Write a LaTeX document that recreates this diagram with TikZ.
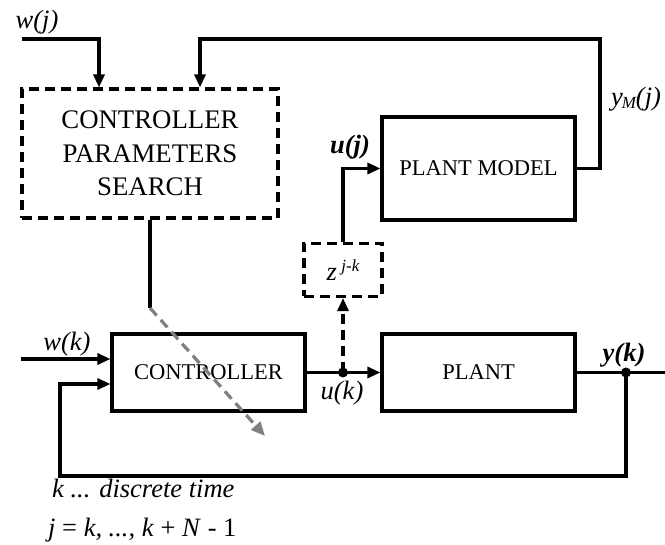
\documentclass[tikz,border=0pt]{standalone}
\usepackage{fontspec}
\setmainfont{Liberation Serif}
\usetikzlibrary{arrows.meta}
\begin{document}
\begin{tikzpicture}[x=1pt,y=-1pt,
  wire/.style={line width=3.1pt},
  arr/.style={wire,-{Triangle[length=13pt,width=11pt]}},
  dashwire/.style={dash pattern=on 10pt off 6pt},
  blk/.style={draw,line width=3.1pt,minimum width=193pt,inner sep=0pt,
    font=\fontsize{22.5}{27}\selectfont},
  dblk/.style={draw,line width=3.1pt,dashwire,inner sep=0pt},
  lbl/.style={font=\fontsize{26.5}{30}\selectfont\itshape,inner sep=0pt},
  blbl/.style={font=\fontsize{26.5}{30}\selectfont\bfseries\itshape,inner sep=0pt},
  dotn/.style={circle,fill,inner sep=0pt,minimum size=10pt},
  grayarr/.style={draw=gray,line width=3.2pt,dashwire,
    -{Triangle[length=14pt,width=12pt,fill=gray]}}]
\useasboundingbox (0,0) rectangle (665,545);

% blocks
\node[dblk,minimum width=256pt,minimum height=129pt,align=center,
  font=\fontsize{26.8}{33.5}\selectfont] (cps) at (150,153.5)
  {CONTROLLER\\PARAMETERS\\SEARCH};
\node[blk,minimum height=77pt] (ctrl) at (208.5,372.5) {CONTROLLER};
\node[blk,minimum height=77pt] (plant) at (478.5,372.5) {PLANT};
\node[blk,minimum height=103pt] (model) at (478.5,168.5) {PLANT MODEL};
\node[dblk,minimum width=78pt,minimum height=53pt,
  font=\fontsize{26.5}{30}\selectfont\itshape] (zd) at (343,270)
  {z\,\raisebox{9pt}{\fontsize{17}{17}\selectfont j-k}};

% junctions and free ends
\node[dotn] (uk) at (343,372.5) {};
\node[dotn] (yk) at (626,372.5) {};
\coordinate (out) at (665,372.5);
\coordinate (fbl) at (60,476);
\coordinate (wkin) at (21,359);
\coordinate (wjin) at (22,39);
\coordinate (top) at (600,39);
\coordinate (cpsend) at (150,308);
\coordinate (gend) at (265,436);

% connectors
\draw[arr] (ctrl.east) -- (plant.west);
\draw[wire] (plant.east) -- (out);
\draw[arr] (yk.center) |- (fbl) |- ([yshift=-11.5pt]ctrl.west);
\draw[arr] (wkin) -- (wkin -| ctrl.west);
\draw[arr,dashwire] (uk.center) -- (zd.south);
\draw[arr] (zd.north) |- (model.west);
\draw[arr] (model.east) -| (top) -| ([xshift=50pt]cps.north);
\draw[arr] (wjin) -| ([xshift=-51pt]cps.north);
\draw[wire] (cps.south) -- (cpsend);
\draw[grayarr] (cpsend) -- (gend);

% signal labels
\node[lbl] (lwj) at (37,22) {w(j)};
\node[lbl] (lwk) at (67,344) {w(k)};
\node[blbl] (luj) at (350,147) {u(j)};
\node[lbl] (luk) at (342,393) {u(k)};
\node[blbl] (lyk) at (624,355) {y(k)};
\node[lbl] (lym) at (636,99)
  {y\kern-1pt\raisebox{-3pt}{\fontsize{17}{17}\selectfont M}(j)};

% notes
\node[lbl,anchor=base west] (t1) at (52,498) {k ... discrete time};
\node[font=\fontsize{26.5}{30}\selectfont,inner sep=0pt,anchor=base west] (t2)
  at (48,537) {\textit{j} = \textit{k, ..., k} + \textit{N} - 1};
\end{tikzpicture}
\end{document}
